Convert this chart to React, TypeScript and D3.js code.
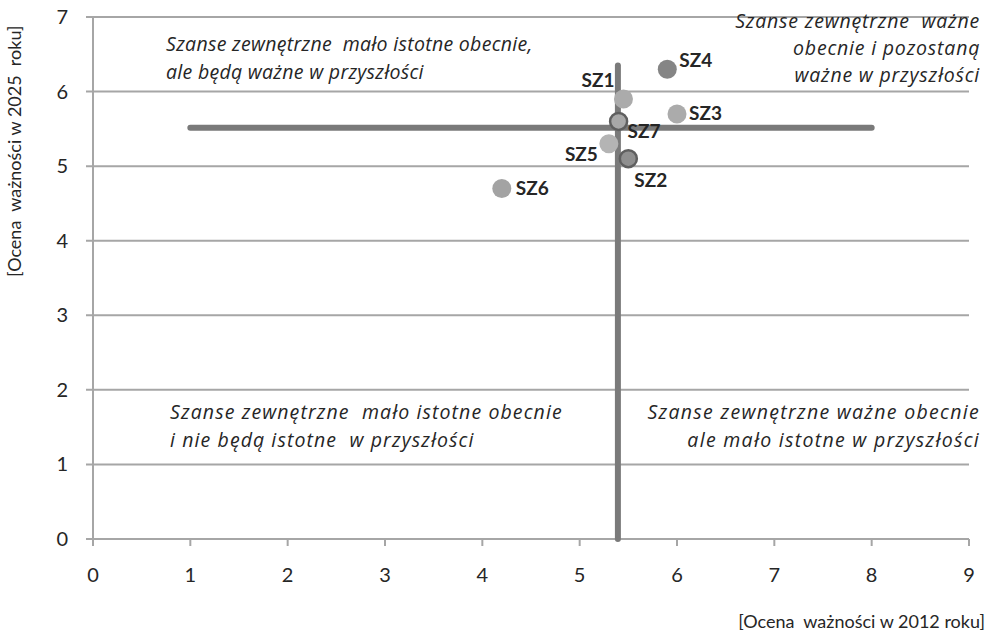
import * as d3 from 'd3';
import React, { useEffect, useRef } from 'react';

// Point data
const pointLabels = ["SZ1", "SZ2", "SZ3", "SZ4", "SZ5", "SZ6", "SZ7"];
const currentScores = [5.45, 5.5, 6.0, 5.9, 5.3, 4.2, 5.4]; // 2012
const futureScores = [5.9, 5.1, 5.7, 6.3, 5.3, 4.7, 5.6]; // 2025

const xTicks = [0, 1, 2, 3, 4, 5, 6, 7, 8, 9];
const yTicks = [0, 1, 2, 3, 4, 5, 6, 7];

// Quadrant texts
const topLeftText = ["Szanse zewnętrzne  mało istotne obecnie,", "ale będą ważne w przyszłości"];
const topRightText = ["Szanse zewnętrzne  ważne", "obecnie i pozostaną", "ważne w przyszłości"];
const bottomLeftText = ["Szanse zewnętrzne  mało istotne obecnie", "i nie będą istotne  w przyszłości"];
const bottomRightText = ["Szanse zewnętrzne ważne obecnie", "ale mało istotne w przyszłości"];

// Styling per point (fill, outline) and label placement
const pointStyle: Record<string, { fill: string; stroke?: string }> = {
  SZ1: { fill: "#ababab" },
  SZ2: { fill: "#8f8f8f", stroke: "#5f5f5f" },
  SZ3: { fill: "#ababab" },
  SZ4: { fill: "#858585" },
  SZ5: { fill: "#b4b4b4" },
  SZ6: { fill: "#a3a3a3" },
  SZ7: { fill: "#a8a8a8", stroke: "#5f5f5f" },
};
const labelOffset: Record<string, [number, number, string]> = {
  SZ1: [-9, -12, "end"],
  SZ2: [6, 28, "start"],
  SZ3: [12, 6, "start"],
  SZ4: [12, -2, "start"],
  SZ5: [-11, 17, "end"],
  SZ6: [14, 6, "start"],
  SZ7: [9, 17, "start"],
};

const App: React.FC = () => {
  const ref = useRef<SVGSVGElement>(null);

  useEffect(() => {
    if (!ref.current) return;
    const root = d3.select(ref.current);
    root.selectAll("*").remove();

    const W = 997, H = 635;
    const margin = { top: 17, right: 28, bottom: 96, left: 93 };

    root.attr("width", W).attr("height", H);

    const x = d3.scaleLinear().domain([0, 9]).range([margin.left, W - margin.right]);
    const y = d3.scaleLinear().domain([0, 7]).range([H - margin.bottom, margin.top]);

    const font = "Lato, 'Open Sans', sans-serif";
    const italicFont = "'Open Sans', Lato, sans-serif";
    const grey = "#a6a6a6";
    const textColor = "#262626";

    // horizontal gridlines
    root.append("g")
      .selectAll("line")
      .data(yTicks)
      .join("line")
      .attr("x1", x(0) - 7)
      .attr("x2", x(9))
      .attr("y1", d => y(d))
      .attr("y2", d => y(d))
      .attr("stroke", grey)
      .attr("stroke-width", 2);

    // y axis line
    root.append("line")
      .attr("x1", x(0)).attr("x2", x(0))
      .attr("y1", y(0)).attr("y2", y(7))
      .attr("stroke", grey).attr("stroke-width", 2);

    // x ticks
    root.append("g")
      .selectAll("line")
      .data(xTicks)
      .join("line")
      .attr("x1", d => x(d)).attr("x2", d => x(d))
      .attr("y1", y(0)).attr("y2", y(0) + 7)
      .attr("stroke", grey).attr("stroke-width", 2);

    // tick labels
    root.append("g")
      .selectAll("text")
      .data(xTicks)
      .join("text")
      .attr("x", d => x(d))
      .attr("y", y(0) + 43)
      .attr("text-anchor", "middle")
      .attr("font-family", font)
      .attr("font-size", 20)
      .attr("fill", textColor)
      .text(d => d);

    root.append("g")
      .selectAll("text")
      .data(yTicks)
      .join("text")
      .attr("x", x(0) - 25)
      .attr("y", d => y(d) + 7)
      .attr("text-anchor", "end")
      .attr("font-family", font)
      .attr("font-size", 20)
      .attr("fill", textColor)
      .text(d => d);

    // axis titles
    root.append("text")
      .attr("transform", `translate(21,${y(5.2)}) rotate(-90)`)
      .attr("text-anchor", "middle")
      .attr("font-family", font)
      .attr("font-size", 18)
      .attr("fill", textColor)
      .style("white-space", "pre")
      .text("[Ocena  ważności w 2025  roku]");

    root.append("text")
      .attr("x", 985)
      .attr("y", 628)
      .attr("text-anchor", "end")
      .attr("font-family", font)
      .attr("font-size", 18)
      .attr("fill", textColor)
      .style("white-space", "pre")
      .text("[Ocena  ważności w 2012 roku]");

    // quadrant dividing lines at the means
    const meanX = d3.mean(currentScores) as number;
    const meanY = d3.mean(futureScores) as number;
    const lineColor = "#7a7a7a";
    root.append("line")
      .attr("x1", x(1)).attr("x2", x(8))
      .attr("y1", y(meanY)).attr("y2", y(meanY))
      .attr("stroke", lineColor).attr("stroke-width", 6).attr("stroke-linecap", "round");
    root.append("line")
      .attr("x1", x(meanX)).attr("x2", x(meanX))
      .attr("y1", y(0)).attr("y2", y(6.35))
      .attr("stroke", lineColor).attr("stroke-width", 6).attr("stroke-linecap", "round");

    // quadrant descriptions
    const addBlock = (lines: string[], px: number, py: number, anchor: string, lh: number, spacing: number) => {
      const t = root.append("text")
        .attr("font-family", italicFont)
        .attr("font-style", "italic")
        .attr("font-size", 19.5)
        .attr("letter-spacing", spacing)
        .attr("fill", textColor)
        .attr("text-anchor", anchor)
        .style("white-space", "pre");
      lines.forEach((l, i) => {
        t.append("tspan").attr("x", px).attr("y", py + i * lh).text(l);
      });
    };
    addBlock(topLeftText, 166, 51, "start", 28, 0.3);
    addBlock(topRightText, 980, 28, "end", 27, 0.8);
    addBlock(bottomLeftText, 170, 419, "start", 28, 1.1);
    addBlock(bottomRightText, 980, 419, "end", 28, 1.3);

    // points
    const pts = pointLabels.map((name, i) => ({ name, cx: currentScores[i], cy: futureScores[i] }));
    root.append("g")
      .selectAll("circle")
      .data(pts)
      .join("circle")
      .attr("cx", d => x(d.cx))
      .attr("cy", d => y(d.cy))
      .attr("r", d => (pointStyle[d.name].stroke ? 8.5 : 9.5))
      .attr("fill", d => pointStyle[d.name].fill)
      .attr("stroke", d => pointStyle[d.name].stroke || "none")
      .attr("stroke-width", 2.5);

    root.append("g")
      .selectAll("text")
      .data(pts)
      .join("text")
      .attr("x", d => x(d.cx) + labelOffset[d.name][0])
      .attr("y", d => y(d.cy) + labelOffset[d.name][1])
      .attr("text-anchor", d => labelOffset[d.name][2])
      .attr("font-family", font)
      .attr("font-weight", "bold")
      .attr("font-size", 19)
      .attr("fill", textColor)
      .text(d => d.name);
  }, []);

  return (
    <svg ref={ref} style={{ position: "absolute", left: 0, top: 0, background: "#fff" }}></svg>
  );
};

export default App;
